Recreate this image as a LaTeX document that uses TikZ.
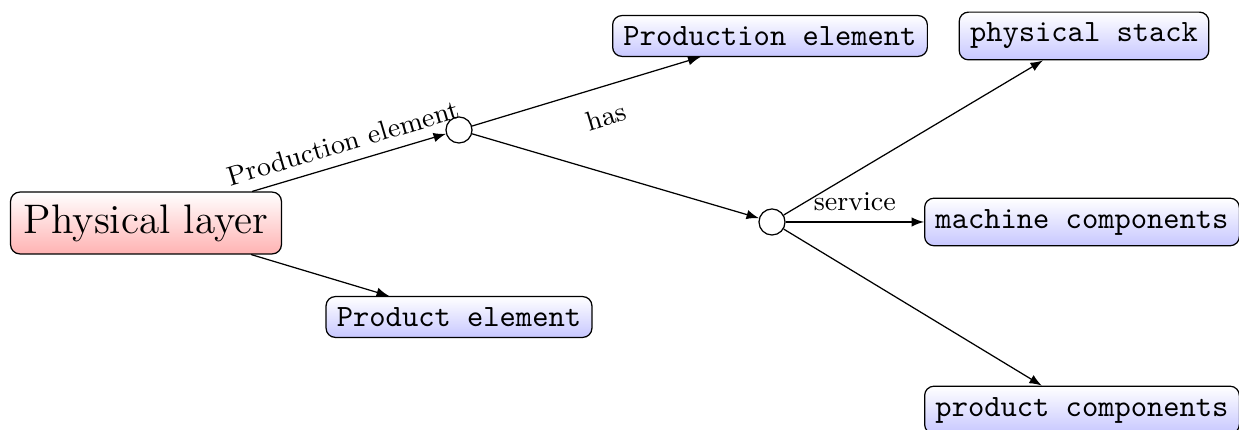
\documentclass[tikz,border=0pt]{standalone}
\usetikzlibrary{arrows}
\begin{document}
\begin{tikzpicture}[x=0.3225pt,y=-0.3225pt,
  ttbox/.style={draw, rounded corners=3pt, top color=white, bottom color=blue!22, font=\ttfamily, inner xsep=3.5pt, inner ysep=3.5pt},
  rootbox/.style={draw, rounded corners=3pt, top color=white, bottom color=red!30, font=\fontsize{13.3}{15}\selectfont, inner xsep=4.3pt, inner ysep=4pt},
  junction/.style={draw, circle, minimum size=8.4pt, inner sep=0pt},
  conn/.style={-latex, thin},
  lab/.style={font=\fontsize{8.8}{10}\selectfont}]
\useasboundingbox (0,0) rectangle (1239,430);
\node[rootbox] (pl) at (146,223) {Physical layer};
\node[ttbox] (prod) at (459,317) {Product element};
\node[junction] (c1) at (459,130) {};
\node[ttbox] (pe) at (770,36) {Production element};
\node[ttbox] (ps) at (1084,36) {physical stack};
\node[junction] (c2) at (772,222) {};
\node[ttbox] (mc) at (1082,222) {machine components};
\node[ttbox] (pc) at (1082,410) {product components};
\draw[conn] (pl) -- node[lab, above, sloped] {Production element} (c1);
\draw[conn] (pl) -- (prod);
\draw[conn] (c1) -- node[lab, below, sloped, pos=0.55, yshift=-3pt] {has} (pe);
\draw[conn] (c1) -- (c2);
\draw[conn] (c2) -- (ps);
\draw[conn] (c2) -- node[lab, above] {service} (mc);
\draw[conn] (c2) -- (pc);
\end{tikzpicture}
\end{document}
